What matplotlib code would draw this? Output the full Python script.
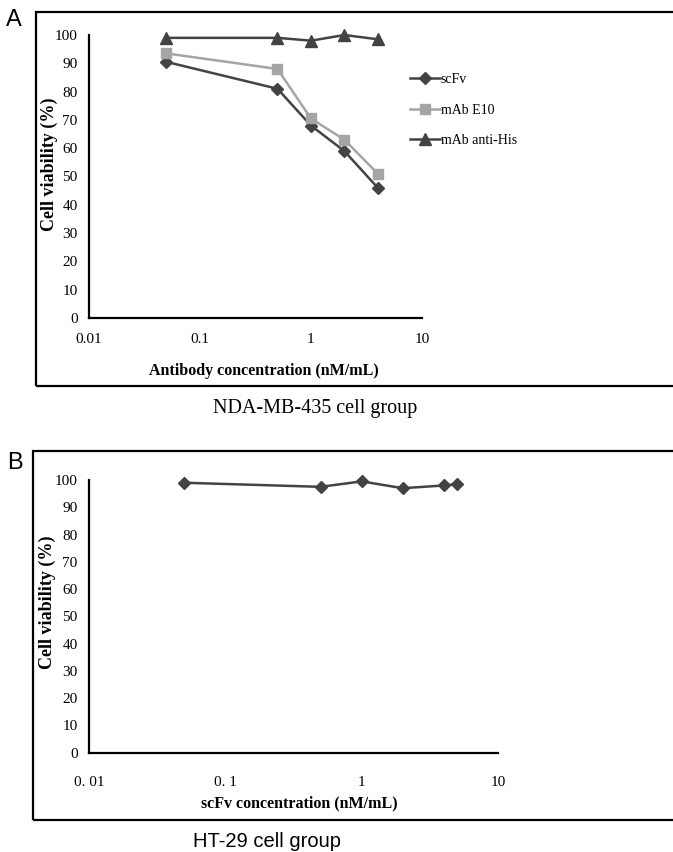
import matplotlib
matplotlib.use("Agg")
import matplotlib.pyplot as plt
from matplotlib.patches import Rectangle

# Panel A: NDA-MB-435 cells
conc_a = [0.05, 0.5, 1, 2, 4]
scfv_a = [90.5, 81, 68, 59, 46]
e10_a = [93.5, 88, 70.5, 63, 51]
his_a = [99, 99, 98, 100, 98.5]

# Panel B: HT-29 cells
conc_b = [0.05, 0.5, 1, 2, 4, 5]
scfv_b = [99, 97.5, 99.5, 97, 98, 98.5]

x_ticks = [0.01, 0.1, 1, 10]
x_labels_a = ["0.01", "0.1", "1", "10"]
x_labels_b = ["0. 01", "0. 1", "1", "10"]
y_ticks = list(range(0, 101, 10))

DARK = "#434343"
LIGHT = "#a5a5a5"
SERIF = "Liberation Serif"
SANS = "Liberation Sans"

fig = plt.figure(figsize=(6.73, 8.52), dpi=100)


def style_axes(ax, xlabels, xpad):
    ax.set_xscale("log")
    ax.set_xlim(0.01, 10)
    ax.set_ylim(0, 100)
    ax.set_xticks(x_ticks)
    ax.set_xticklabels(xlabels, fontfamily=SERIF, fontsize=11)
    ax.minorticks_off()
    ax.set_yticks(y_ticks)
    ax.set_yticklabels([str(v) for v in y_ticks], fontfamily=SERIF, fontsize=11)
    ax.tick_params(axis="y", length=0, pad=8)
    ax.tick_params(axis="x", length=0, pad=xpad)
    for s in ["top", "right"]:
        ax.spines[s].set_visible(False)
    for s in ["left", "bottom"]:
        ax.spines[s].set_linewidth(1.6)
        ax.spines[s].set_color("black")
    ax.patch.set_visible(False)


# --- panel A
ax1 = fig.add_axes([0.132, 0.6268, 0.495, 0.3321])
ax1.plot(conc_a, scfv_a, color=DARK, lw=1.8, marker="D", ms=6.5, label="scFv", clip_on=False)
ax1.plot(conc_a, e10_a, color=LIGHT, lw=1.8, marker="s", ms=7.5, label="mAb E10", clip_on=False)
ax1.plot(conc_a, his_a, color=DARK, lw=1.8, marker="^", ms=9, label="mAb anti-His", clip_on=False)
style_axes(ax1, x_labels_a, 11)
ax1.set_xlabel("Antibody concentration (nM/mL)", fontfamily=SERIF, fontsize=11.5,
               fontweight="bold")
ax1.xaxis.set_label_coords(0.526, -0.158)
ax1.set_ylabel("Cell viability (%)", fontfamily=SERIF, fontsize=13, fontweight="bold")
ax1.yaxis.set_label_coords(-0.093, 0.544)
fig.legend(loc="upper left", bbox_to_anchor=(0.59, 0.929), frameon=False,
           prop={"family": SERIF, "size": 10}, handlelength=2.2,
           handletextpad=0.05, labelspacing=1.27)

fig.patches.append(Rectangle((0.0535, 0.547), 1.0, 0.439, transform=fig.transFigure,
                             fill=False, lw=1.6, ec="black"))
fig.text(0.021, 0.977, "A", fontfamily=SANS, fontsize=17, va="center", ha="center")
fig.text(0.468, 0.521, "NDA-MB-435 cell group", fontfamily=SERIF, fontsize=14.5,
         va="center", ha="center")

# --- panel B
ax2 = fig.add_axes([0.132, 0.1165, 0.608, 0.3201])
ax2.plot(conc_b, scfv_b, color=DARK, lw=1.8, marker="D", ms=6.5, clip_on=False)
style_axes(ax2, x_labels_b, 17)
ax2.set_xlabel("scFv concentration (nM/mL)", fontfamily=SERIF, fontsize=11.5,
               fontweight="bold")
ax2.xaxis.set_label_coords(0.515, -0.157)
ax2.set_ylabel("Cell viability (%)", fontfamily=SERIF, fontsize=13, fontweight="bold")
ax2.yaxis.set_label_coords(-0.081, 0.55)

fig.patches.append(Rectangle((0.049, 0.0376), 1.0, 0.4331, transform=fig.transFigure,
                             fill=False, lw=1.6, ec="black"))
fig.text(0.022, 0.456, "B", fontfamily=SANS, fontsize=17, va="center", ha="center")
fig.text(0.397, 0.012, "HT-29 cell group", fontfamily=SANS, fontsize=14.5,
         va="center", ha="center")

fig.savefig("out.png", dpi=100)
